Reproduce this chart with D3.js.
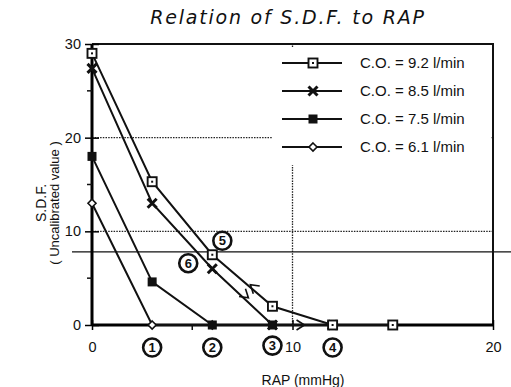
<!DOCTYPE html>
<html>
<head>
<meta charset="utf-8">
<script src="https://cdn.jsdelivr.net/npm/d3@7"></script>
<style>
  html, body { margin: 0; padding: 0; background: #fff; }
  svg { display: block; font-family: "Liberation Sans", Arial, sans-serif; }
</style>
</head>
<body>
<svg id="chart" width="511" height="387"></svg>
<script>
// RAP (mmHg) sample positions and S.D.F. readings for each cardiac output
const seriesNames = ["C.O. = 9.2 l/min", "C.O. = 8.5 l/min", "C.O. = 7.5 l/min", "C.O. = 6.1 l/min"];
const markerKinds = ["dotSquare", "cross", "filledSquare", "diamond"];
const rap92 = [0, 3, 6, 9, 12, 15];
const sdf92 = [29, 15.3, 7.5, 2, 0, 0];
const rap85 = [0, 3, 6, 9, 12];
const sdf85 = [27.4, 13, 6, 0, 0];
const rap75 = [0, 3, 6, 9];
const sdf75 = [18, 4.6, 0, 0];
const rap61 = [0, 3, 6];
const sdf61 = [13, 0, 0];
const xTicks = [0, 10, 20];
const yTicks = [0, 10, 20, 30];
const yMinorTicks = [5, 15, 25];
const xMinorTicks = [5, 15];
const referenceLevel = 7.8;
// circled zero-crossing marks and notes: [label, x, y]
const circledMarks = [["1", 3, -2.4], ["2", 6, -2.4], ["3", 9, -2.2], ["4", 12, -2.4], ["5", 6.5, 9.0], ["6", 4.8, 6.6]];

const series = [
  { name: seriesNames[0], kind: markerKinds[0], xs: rap92, ys: sdf92 },
  { name: seriesNames[1], kind: markerKinds[1], xs: rap85, ys: sdf85 },
  { name: seriesNames[2], kind: markerKinds[2], xs: rap75, ys: sdf75 },
  { name: seriesNames[3], kind: markerKinds[3], xs: rap61, ys: sdf61 }
];

const svg = d3.select("#chart");
const x = d3.scaleLinear().domain([0, 20]).range([92, 493]);
const y = d3.scaleLinear().domain([0, 30]).range([325, 44]);

// gridlines
svg.append("g").selectAll("line.hg").data([10, 20]).join("line")
  .attr("x1", x(0)).attr("x2", x(20))
  .attr("y1", d => y(d)).attr("y2", d => y(d))
  .attr("stroke", "#222").attr("stroke-width", 1.3).attr("stroke-dasharray", "1.5,1.2");
svg.append("line")
  .attr("x1", x(10)).attr("x2", x(10)).attr("y1", y(0)).attr("y2", y(30))
  .attr("stroke", "#222").attr("stroke-width", 1.3).attr("stroke-dasharray", "1.5,1.2");

// hand-drawn reference level
svg.append("line")
  .attr("x1", 72).attr("x2", 511).attr("y1", y(referenceLevel)).attr("y2", y(referenceLevel))
  .attr("stroke", "#111").attr("stroke-width", 1.3);

// frame top and right
svg.append("path")
  .attr("d", `M${x(0)},${y(30)}H${x(20)}V${y(0)}`)
  .attr("fill", "none").attr("stroke", "#111").attr("stroke-width", 2);

// legend background hides gridlines behind it
svg.append("rect").attr("x", 272).attr("y", 47).attr("width", 219).attr("height", 118).attr("fill", "#fff");

// axes
const xAxis = svg.append("g").attr("transform", `translate(0,${y(0)})`)
  .call(d3.axisBottom(x).tickValues(xTicks).tickSize(5).tickPadding(12).tickFormat(d3.format("d")));
xAxis.select(".domain").attr("stroke-width", 3).attr("d", `M${x(0)},0H${x(20)}`);
xAxis.selectAll(".tick line").attr("y1", -5).attr("y2", 5).attr("stroke-width", 1.5);
xAxis.selectAll("text").attr("font-size", 14.5).attr("fill", "#111")
  .attr("font-family", "'Liberation Sans', Arial, sans-serif");
xAxis.selectAll(".minor").data(xMinorTicks).join("line").attr("class", "minor")
  .attr("x1", d => x(d)).attr("x2", d => x(d)).attr("y1", 0).attr("y2", 5)
  .attr("stroke", "#111").attr("stroke-width", 1.5);

const yAxis = svg.append("g").attr("transform", `translate(${x(0)},0)`)
  .call(d3.axisLeft(y).tickValues(yTicks).tickSize(7).tickPadding(4).tickFormat(d3.format("d")));
yAxis.select(".domain").attr("stroke-width", 3).attr("d", `M0,${y(0)}V${y(30)}`);
yAxis.selectAll(".tick line").attr("x1", -7).attr("x2", 7).attr("stroke-width", 1.5);
yAxis.selectAll("text").attr("font-size", 14.5).attr("fill", "#111")
  .attr("font-family", "'Liberation Sans', Arial, sans-serif");
yAxis.selectAll(".minor").data(yMinorTicks).join("line").attr("class", "minor")
  .attr("x1", -5).attr("x2", 0).attr("y1", d => y(d)).attr("y2", d => y(d))
  .attr("stroke", "#111").attr("stroke-width", 1.5);

// marker drawing
function drawMarker(g, kind) {
  if (kind === "dotSquare") {
    g.append("rect").attr("x", -4.5).attr("y", -4.5).attr("width", 9).attr("height", 9)
      .attr("fill", "#fff").attr("stroke", "#111").attr("stroke-width", 1.9);
    g.append("rect").attr("x", -1).attr("y", -1).attr("width", 2).attr("height", 2).attr("fill", "#111");
  } else if (kind === "cross") {
    g.append("path").attr("d", "M-4.5,-4.5L4.5,4.5M-4.5,4.5L4.5,-4.5")
      .attr("stroke", "#111").attr("stroke-width", 3);
  } else if (kind === "filledSquare") {
    g.append("rect").attr("x", -4.5).attr("y", -4.5).attr("width", 9).attr("height", 9).attr("fill", "#111");
  } else {
    g.append("path").attr("d", "M0,-4L4,0L0,4L-4,0Z")
      .attr("fill", "#fff").attr("stroke", "#111").attr("stroke-width", 1.6);
  }
}

const line = d3.line().x(d => x(d[0])).y(d => y(d[1]));
series.slice().reverse().forEach(s => {
  const pts = s.xs.map((v, i) => [v, s.ys[i]]);
  svg.append("path").datum(pts).attr("d", line)
    .attr("fill", "none").attr("stroke", "#111").attr("stroke-width", 2);
});
series.slice().reverse().forEach(s => {
  s.xs.forEach((v, i) => {
    const g = svg.append("g").attr("transform", `translate(${x(v)},${y(s.ys[i])})`);
    drawMarker(g, s.kind);
  });
});

// direction arrows along the curves
function arrowHead(cx, cy, angleDeg) {
  svg.append("path")
    .attr("d", "M-8,-5L0,0L-8,5")
    .attr("transform", `translate(${cx},${cy}) rotate(${angleDeg})`)
    .attr("fill", "none").attr("stroke", "#111").attr("stroke-width", 1.6);
}
arrowHead(x(7.9), y(4.3), -140);
arrowHead(x(7.8), y(2.9), 40);
arrowHead(x(10.6), y(0), 0);

// circled numbers
const cm = svg.append("g").selectAll("g").data(circledMarks).join("g")
  .attr("transform", d => `translate(${x(d[1])},${y(d[2])})`);
cm.append("circle").attr("r", 9).attr("fill", "#fff").attr("stroke", "#111").attr("stroke-width", 2.6);
cm.append("text").text(d => d[0]).attr("text-anchor", "middle").attr("dy", "0.36em")
  .attr("font-size", 13).attr("font-weight", "bold").attr("fill", "#111");

// legend
const lg = svg.append("g").selectAll("g").data(series).join("g")
  .attr("transform", (d, i) => `translate(282,${63 + i * 28})`);
lg.append("line").attr("x1", 0).attr("x2", 60).attr("stroke", "#111").attr("stroke-width", 2);
lg.each(function (d) { drawMarker(d3.select(this).append("g").attr("transform", "translate(31,0)"), d.kind); });
lg.append("text").text(d => d.name).attr("x", 78).attr("dy", "0.36em")
  .attr("font-size", 15).attr("fill", "#111");

// titles
svg.append("text").text("Relation of S.D.F. to RAP")
  .attr("x", 288).attr("y", 24).attr("text-anchor", "middle")
  .attr("font-size", 19).attr("font-style", "italic").attr("letter-spacing", 1.8)
  .attr("font-family", "'DejaVu Sans', sans-serif").attr("font-weight", 300).attr("fill", "#111");
svg.append("text").text("RAP (mmHg)")
  .attr("x", 303).attr("y", 385).attr("text-anchor", "middle").attr("font-size", 14).attr("fill", "#111");
const yt = svg.append("g").attr("transform", "translate(0,203) rotate(-90)");
yt.append("text").text("S.D.F.").attr("y", 46).attr("text-anchor", "middle")
  .attr("font-size", 14).attr("fill", "#111");
yt.append("text").text("( Uncalibrated value )").attr("y", 59).attr("text-anchor", "middle")
  .attr("font-size", 13).attr("fill", "#111");
</script>
</body>
</html>
